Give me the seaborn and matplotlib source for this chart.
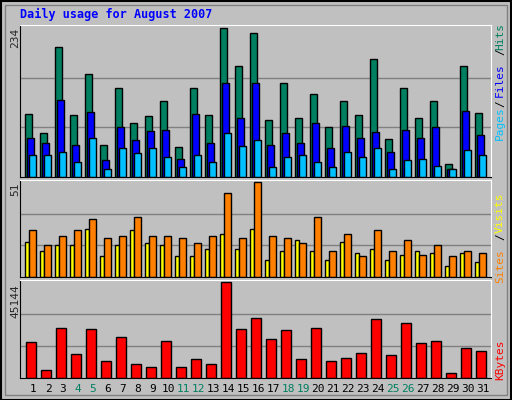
import numpy as np
import seaborn as sns
import matplotlib
matplotlib.use("Agg")
import matplotlib.pyplot as plt
from matplotlib.patches import Rectangle

days = list(range(1, 32))
weekend = [4, 5, 11, 12, 18, 19, 25, 26]
hits = [99, 69, 204, 97, 161, 50, 140, 85, 96, 120, 47, 140, 97, 234, 175, 226,
        89, 148, 93, 131, 78, 120, 97, 185, 59, 139, 93, 120, 21, 175, 101]
files = [61, 54, 121, 50, 102, 26, 78, 58, 72, 74, 28, 99, 53, 148, 93, 148,
         50, 69, 53, 85, 45, 80, 62, 70, 39, 74, 62, 78, 12, 104, 66]
pages = [34, 34, 40, 24, 62, 12, 45, 37, 45, 32, 16, 35, 23, 69, 48, 58,
         15, 31, 34, 23, 15, 40, 32, 45, 13, 26, 28, 18, 13, 42, 35]
visits = [25, 17, 22, 25, 31, 21, 22, 32, 22, 22, 21, 18, 22, 45, 21, 51,
          22, 21, 18, 32, 14, 23, 11, 25, 14, 20, 12, 17, 11, 14, 13]
sites = [19, 14, 17, 17, 26, 11, 17, 25, 18, 17, 11, 11, 15, 23, 15, 26,
         9, 14, 20, 14, 9, 19, 13, 15, 9, 12, 14, 13, 6, 13, 8]
kbytes = [16870, 3970, 23320, 11410, 22820, 7940, 19350, 6450, 4960, 17370, 4960,
          8930, 6450, 45144, 22820, 28290, 18360, 22330, 8930, 23320, 7940, 9430,
          11910, 27790, 10920, 25800, 16370, 17370, 2480, 13890, 12900]

sns.set_style("white")
plt.rcParams['font.family'] = ['DejaVu Sans Mono', 'DejaVu Sans']
bg = "#C0C0C0"
W, H = 512, 400
fig = plt.figure(figsize=(W / 100, H / 100), dpi=100, facecolor=bg)

# frame
fig.patches.append(Rectangle((0.5 / W, 0.5 / H), 1 - 1.5 / W, 1 - 1.5 / H, transform=fig.transFigure,
                             fill=False, ec="black", lw=1.5))
fig.patches.append(Rectangle((5 / W, 5 / H), 1 - 10 / W, 1 - 10 / H, transform=fig.transFigure,
                             fill=False, ec="#808080", lw=1))

def px_ax(top, bottom):
    return fig.add_axes([20 / W, (H - bottom) / H, 471 / W, (bottom - top) / H])

x = np.arange(31)
panels = [(25, 177, 234), (180, 277, 51), (280, 378, 45144)]
axes = [px_ax(t, b) for t, b, _ in panels]
kw = dict(align="edge", edgecolor="black", linewidth=1)

ax = axes[0]
ax.bar(x, hits, 0.47, color="#008060", **kw)
ax.bar(x + 0.13, files, 0.47, color="#0000FF", **kw)
ax.bar(x + 0.27, pages, 0.47, color="#00C0FF", **kw)

ax = axes[1]
ax.bar(x, sites, 0.3, color="#FFFF00", **kw)
ax.bar(x + 0.27, visits, 0.47, color="#FF8000", **kw)

ax = axes[2]
ax.bar(x + 0.07, kbytes, 0.67, color="#FF0000", **kw)

for ax, (_, _, top) in zip(axes, panels):
    ax.set_facecolor(bg)
    ax.set_xlim(-0.33, 31.07)
    ax.set_ylim(0, top * 1.02)
    for g in (top / 3, 2 * top / 3):
        ax.axhline(g, color="#808080", lw=1, zorder=0)
    ax.set_xticks([])
    ax.set_yticks([])
    for s in ax.spines.values():
        s.set_visible(False)
    ax.spines["top"].set_visible(True)
    ax.spines["top"].set_color("white")
    ax.spines["bottom"].set_visible(True)
    ax.spines["bottom"].set_color("black")
    ax.spines["left"].set_visible(True)
    ax.spines["left"].set_color("black")
    ax.spines["right"].set_visible(True)
    ax.spines["right"].set_color("white")

def ftext(px, py, s, **k):
    fig.text(px / W, 1 - py / H, s, **k)

ftext(20, 14, "Daily usage for August 2007", color="#0000FF", fontsize=8.5,
      fontweight="bold", va="center", ha="left")
for py, s in [(28, "234"), (183, "51"), (284, "45144")]:
    ftext(15, py, s, rotation=90, fontsize=8, va="top", ha="center")

for py, s, c in [(36, "Hits", "#008060"), (52, "/", "black"), (80, "Files", "#0000FF"),
                 (104, "/", "black"), (123, "Pages", "#00C0FF"),
                 (213, "Visits", "#FFFF00"), (237, "/", "black"), (266, "Sites", "#FF8000"),
                 (360, "KBytes", "#FF0000")]:
    ftext(500, py, s, rotation=90, color=c, fontsize=8, va="center", ha="center")

for d in days:
    c = "#008060" if d in weekend else "black"
    ftext(20 + 5 + (d - 1) * 15 + 8, 389, str(d), color=c, fontsize=8, va="center", ha="center")

fig.savefig("out.png", dpi=100, facecolor=bg)
